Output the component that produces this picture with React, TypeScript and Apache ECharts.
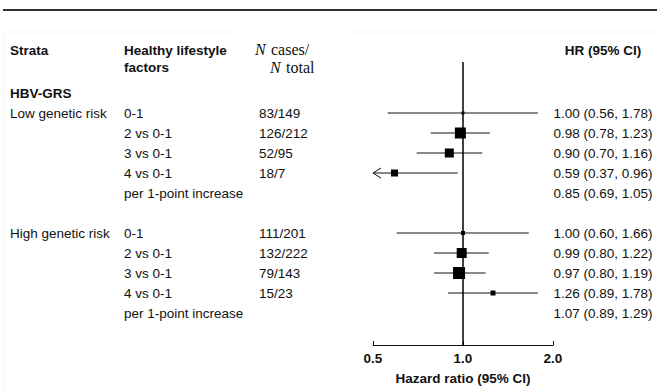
import React, { useEffect, useRef } from "react";
import * as echarts from "echarts";

// ---- data ----
const rowIndex = [0, 1, 2, 3, 4, 6, 7, 8, 9, 10];
const strataLabels = ["Low genetic risk", "", "", "", "", "High genetic risk", "", "", "", ""];
const factors = [
  "0-1", "2 vs 0-1", "3 vs 0-1", "4 vs 0-1", "per 1-point increase",
  "0-1", "2 vs 0-1", "3 vs 0-1", "4 vs 0-1", "per 1-point increase",
];
const cases = ["83/149", "126/212", "52/95", "18/7", "", "111/201", "132/222", "79/143", "15/23", ""];
const hr = [1.0, 0.98, 0.9, 0.59, 0.85, 1.0, 0.99, 0.97, 1.26, 1.07];
const lo = [0.56, 0.78, 0.7, 0.37, 0.69, 0.6, 0.8, 0.8, 0.89, 0.89];
const hi = [1.78, 1.23, 1.16, 0.96, 1.05, 1.66, 1.22, 1.19, 1.78, 1.29];
const plotted = [true, true, true, true, false, true, true, true, true, false];
const weight = [3, 11, 9, 7, 0, 4, 10, 12, 5, 0];
const xTicks = [0.5, 1, 2];
const xMin = 0.5;
const xMax = 2;

const FONT = "'Liberation Sans', Arial, sans-serif";
const SERIF = "'Liberation Serif', 'Times New Roman', serif";
const FS = 13.5;

export default function App() {
  const ref = useRef<HTMLDivElement>(null);
  useEffect(() => {
    if (!ref.current) return;
    const chart = echarts.init(ref.current, null, { renderer: "svg" });

    const gridTop = 62;
    const rowY = (r: number) => 113 + 20 * r;

    const txt = (text: string, x: number, y: number, opts: any = {}) => ({
      type: "text",
      x,
      y,
      silent: true,
      style: {
        text,
        fill: "#111",
        fontSize: FS,
        fontFamily: FONT,
        textAlign: "left",
        textVerticalAlign: "middle",
        ...opts,
      },
    });

    const graphics: any[] = [
      { type: "line", silent: true, shape: { x1: 3, y1: 10, x2: 657, y2: 10 }, style: { stroke: "#333", lineWidth: 2 } },
      { type: "line", silent: true, shape: { x1: 4, y1: 32, x2: 235, y2: 32 }, style: { stroke: "#f3f3f3", lineWidth: 1 } },
      { type: "line", silent: true, shape: { x1: 350, y1: 32, x2: 657, y2: 32 }, style: { stroke: "#f3f3f3", lineWidth: 1 } },
      { type: "line", silent: true, shape: { x1: 4, y1: 32, x2: 4, y2: 390 }, style: { stroke: "#f3f3f3", lineWidth: 1 } },
      txt("Strata", 10, 50, { fontWeight: "bold" }),
      txt("Healthy lifestyle", 124, 50, { fontWeight: "bold" }),
      txt("factors", 124, 67, { fontWeight: "bold" }),
      txt("N", 255, 49, { fontFamily: SERIF, fontStyle: "italic", fontSize: 16 }),
      txt("cases/", 271, 49, { fontFamily: SERIF, fontSize: 16 }),
      txt("N", 270, 67, { fontFamily: SERIF, fontStyle: "italic", fontSize: 16 }),
      txt("total", 286, 67, { fontFamily: SERIF, fontSize: 16 }),
      txt("HR (95% CI)", 603, 50, { fontWeight: "bold", textAlign: "center" }),
      txt("HBV-GRS", 10, 93, { fontWeight: "bold" }),
    ];
    rowIndex.forEach((r, i) => {
      const y = rowY(r);
      if (strataLabels[i]) graphics.push(txt(strataLabels[i], 10, y));
      graphics.push(txt(factors[i], 124, y));
      if (cases[i]) graphics.push(txt(cases[i], 259, y));
      graphics.push(
        txt(`${hr[i].toFixed(2)} (${lo[i].toFixed(2)}, ${hi[i].toFixed(2)})`, 603, y, { textAlign: "center" })
      );
    });

    const data = rowIndex
      .map((r, i) => ({ value: [hr[i], lo[i], hi[i], r, weight[i]], show: plotted[i] }))
      .filter((d) => d.show)
      .map((d) => d.value);

    chart.setOption({
      animation: false,
      grid: { left: 373, right: 104, top: gridTop, bottom: 45 },
      xAxis: {
        type: "log",
        logBase: 2,
        min: xMin,
        max: xMax,
        splitLine: { show: false },
        axisLine: { show: true, onZero: false, lineStyle: { color: "#111", width: 1 } },
        axisTick: { show: true, inside: true, length: 4, lineStyle: { color: "#111" } },
        minorTick: { show: false },
        axisLabel: {
          margin: 6,
          fontSize: FS,
          fontWeight: "bold",
          fontFamily: FONT,
          color: "#111",
          formatter: (v: number) => (xTicks.some((t) => Math.abs(t - v) < 1e-6) ? v.toFixed(1) : ""),
        },
        name: "Hazard ratio (95% CI)",
        nameLocation: "middle",
        nameGap: 26,
        nameTextStyle: { fontSize: FS, fontWeight: "bold", fontFamily: FONT, color: "#111" },
      },
      yAxis: {
        type: "value",
        inverse: true,
        min: -2.55,
        max: 11.6,
        show: false,
      },
      graphic: graphics,
      series: [
        {
          type: "custom",
          clip: false,
          data,
          encode: { x: 0, y: 3 },
          renderItem: (params: any, api: any) => {
            const v = api.value(0);
            const l = api.value(1);
            const h = api.value(2);
            const r = api.value(3);
            const s = api.value(4);
            const clippedLow = l < xMin;
            const p = api.coord([v, r]);
            const pl = api.coord([Math.max(l, xMin), r]);
            const ph = api.coord([Math.min(h, xMax), r]);
            const children: any[] = [
              {
                type: "line",
                shape: { x1: pl[0], y1: pl[1], x2: ph[0], y2: ph[1] },
                style: { stroke: "#111", lineWidth: 1 },
              },
              {
                type: "rect",
                shape: { x: p[0] - s / 2, y: p[1] - s / 2, width: s, height: s },
                style: { fill: "#000" },
              },
            ];
            if (clippedLow) {
              children.push({
                type: "polyline",
                shape: { points: [[pl[0] + 8, pl[1] - 5], [pl[0], pl[1]], [pl[0] + 8, pl[1] + 5]] },
                style: { stroke: "#111", lineWidth: 1, fill: "none" },
              });
            }
            return { type: "group", children };
          },
          markLine: {
            silent: true,
            symbol: "none",
            label: { show: false },
            lineStyle: { color: "#000", width: 1.5, type: "solid" },
            data: [{ xAxis: 1 }],
          },
        },
      ],
    });
    return () => chart.dispose();
  }, []);
  return <div ref={ref} style={{ position: "fixed", left: 0, top: 0, width: 657, height: 390, background: "#fff" }} />;
}
